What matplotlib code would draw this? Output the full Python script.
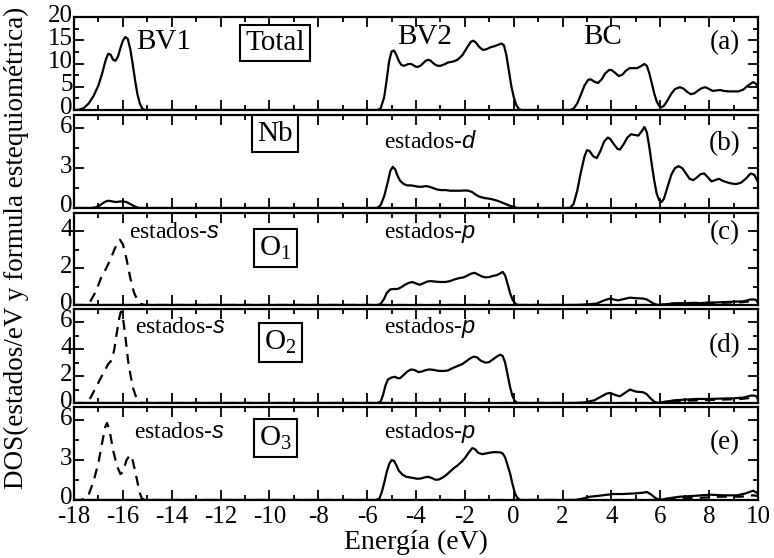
import matplotlib
matplotlib.use("Agg")
import matplotlib.pyplot as plt
import matplotlib.transforms as mtransforms
from matplotlib.ticker import MultipleLocator

plt.rcParams['font.family'] = ['Liberation Serif', 'DejaVu Serif']
plt.rcParams['mathtext.fontset'] = 'custom'
plt.rcParams['mathtext.rm'] = 'Liberation Serif'
plt.rcParams['mathtext.it'] = 'Liberation Sans:italic'

# ---- Total DOS ----
e_total = [-18.0, -17.8, -17.6, -17.4, -17.2, -17.0, -16.85, -16.7, -16.6, -16.5, -16.4, -16.3,
           -16.2, -16.1, -16.0, -15.9, -15.8, -15.7, -15.6, -15.5, -15.4, -15.3, -15.2, -15.1,
           -5.6, -5.45, -5.3, -5.2, -5.1, -5.0, -4.9, -4.8, -4.7, -4.6, -4.5, -4.4, -4.3, -4.2,
           -4.1, -4.0, -3.9, -3.8, -3.7, -3.6, -3.5, -3.4, -3.3, -3.2, -3.1, -3.0, -2.9, -2.8,
           -2.7, -2.5, -2.3, -2.1, -1.9, -1.75, -1.65, -1.55, -1.4, -1.25, -1.1, -0.95, -0.8,
           -0.65, -0.5, -0.4, -0.3, -0.2, -0.1, 0.0, 0.1, 0.2, 0.3,
           2.3, 2.45, 2.6, 2.75, 2.9, 3.05, 3.15, 3.3, 3.45, 3.6, 3.75, 3.9, 4.0, 4.15, 4.3,
           4.45, 4.6, 4.75, 4.9, 5.05, 5.2, 5.35, 5.45, 5.55, 5.65, 5.75, 5.85, 5.95, 6.05,
           6.15, 6.3, 6.45, 6.6, 6.8, 6.95, 7.1, 7.25, 7.4, 7.55, 7.7, 7.85, 8.0, 8.15, 8.3,
           8.45, 8.6, 8.8, 9.0, 9.2, 9.4, 9.6, 9.8, 9.9, 10.0]
dos_total = [0.0, 0.05, 0.4, 1.4, 3.0, 5.3, 7.8, 10.8, 12.1, 11.9, 10.8, 10.6,
             11.5, 13.3, 14.9, 15.7, 15.3, 13.2, 10.0, 6.4, 3.3, 1.3, 0.3, 0.0,
             0.0, 0.3, 2.8, 6.5, 10.5, 12.6, 12.8, 11.8, 10.5, 9.7, 9.5, 9.7, 9.9, 9.9,
             9.6, 9.3, 9.3, 9.6, 10.1, 10.6, 10.8, 10.6, 10.1, 9.7, 9.5, 9.5, 9.7, 9.9,
             10.2, 10.4, 10.8, 11.8, 13.5, 14.7, 14.9, 14.5, 13.5, 12.9, 13.1, 13.5, 13.7,
             14.0, 14.3, 13.9, 11.8, 8.5, 5.2, 2.8, 1.1, 0.3, 0.0,
             0.0, 0.3, 1.4, 3.3, 5.3, 6.5, 6.6, 6.1, 5.8, 6.6, 7.9, 8.6, 8.6, 8.0, 7.3,
             7.6, 8.5, 9.0, 9.0, 9.0, 9.4, 9.9, 9.5, 7.9, 5.8, 3.6, 1.9, 0.9, 0.6,
             0.9, 2.1, 3.5, 4.5, 4.9, 4.6, 3.9, 3.4, 3.6, 4.2, 4.7, 4.9, 4.5, 4.1, 4.2,
             4.3, 4.1, 4.0, 4.0, 4.0, 4.4, 5.3, 6.0, 5.7, 5.0]

# ---- Nb d-states ----
e_nb = [-18.0, -17.3, -17.1, -16.9, -16.75, -16.6, -16.45, -16.3, -16.15, -16.0, -15.85,
        -15.7, -15.55, -15.4, -15.3,
        -5.6, -5.45, -5.3, -5.15, -5.05, -4.95, -4.85, -4.75, -4.65, -4.5, -4.35, -4.2,
        -4.05, -3.9, -3.75, -3.6, -3.45, -3.3, -3.15, -3.0, -2.8, -2.6, -2.4, -2.2, -2.0,
        -1.85, -1.7, -1.55, -1.4, -1.2, -1.0, -0.8, -0.6, -0.4, -0.2, 0.0, 0.15,
        2.3, 2.45, 2.6, 2.75, 2.9, 3.0, 3.1, 3.25, 3.4, 3.55, 3.7, 3.85, 3.95, 4.1, 4.25,
        4.35, 4.5, 4.65, 4.8, 4.95, 5.1, 5.25, 5.35, 5.45, 5.55, 5.65, 5.75, 5.85, 5.95,
        6.05, 6.15, 6.3, 6.45, 6.6, 6.75, 6.9, 7.05, 7.2, 7.35, 7.5, 7.65, 7.8, 7.95, 8.1,
        8.25, 8.4, 8.55, 8.7, 8.9, 9.1, 9.3, 9.5, 9.7, 9.85, 10.0]
dos_nb = [0.0, 0.0, 0.05, 0.25, 0.45, 0.55, 0.5, 0.45, 0.48, 0.5, 0.45,
          0.3, 0.15, 0.03, 0.0,
          0.0, 0.2, 0.9, 2.0, 2.8, 3.1, 2.9, 2.4, 2.05, 1.8, 1.7, 1.7,
          1.65, 1.6, 1.6, 1.65, 1.6, 1.5, 1.4, 1.35, 1.35, 1.3, 1.3, 1.3, 1.32,
          1.3, 1.2, 1.0, 0.85, 0.75, 0.7, 0.62, 0.5, 0.35, 0.2, 0.08, 0.0,
          0.0, 0.3, 1.3, 2.7, 3.9, 4.35, 4.3, 3.9, 3.75, 4.3, 5.0, 5.3, 5.2, 4.8, 4.45,
          4.4, 4.8, 5.3, 5.55, 5.5, 5.45, 5.8, 6.1, 5.7, 4.6, 3.3, 2.1, 1.1, 0.6,
          0.45, 0.7, 1.6, 2.5, 3.0, 3.15, 3.0, 2.6, 2.2, 2.1, 2.3, 2.55, 2.6, 2.3, 2.0,
          2.1, 2.2, 2.05, 1.95, 1.85, 1.8, 1.9, 2.2, 2.6, 2.5, 1.95]

# ---- O1 ----
e_o1_s = [-18.0, -17.6, -17.35, -17.1, -16.9, -16.7, -16.5, -16.35, -16.2, -16.12, -16.0,
          -15.85, -15.7, -15.55, -15.4, -15.25, -15.1,
          5.9, 6.5, 7.5, 8.5, 9.3, 9.8, 10.0]
dos_o1_s = [0.0, 0.0, 0.15, 0.75, 1.45, 1.95, 2.5, 3.0, 3.45, 3.55, 3.3,
            2.5, 1.5, 0.7, 0.25, 0.05, 0.0,
            0.0, 0.08, 0.12, 0.12, 0.15, 0.2, 0.18]
e_o1_p = [-18.0, -5.6, -5.45, -5.3, -5.2, -5.05, -4.9, -4.75, -4.6, -4.45, -4.3, -4.15,
          -4.0, -3.85, -3.7, -3.55, -3.4, -3.2, -3.0, -2.8, -2.6, -2.4, -2.2, -2.05, -1.9,
          -1.75, -1.6, -1.45, -1.3, -1.15, -1.0, -0.85, -0.7, -0.55, -0.45, -0.35, -0.25,
          -0.15, -0.05, 0.05, 0.15,
          2.5, 3.0, 3.4, 3.7, 3.94, 4.1, 4.27, 4.5, 4.76, 5.0, 5.29, 5.45, 5.6, 5.75, 5.9,
          6.2, 6.6, 7.0, 7.5, 8.0, 8.5, 9.0, 9.4, 9.7, 9.85, 10.0]
dos_o1_p = [0.0, 0.0, 0.05, 0.35, 0.65, 0.85, 0.87, 0.87, 0.97, 1.1, 1.2, 1.25,
            1.17, 1.1, 1.18, 1.27, 1.3, 1.27, 1.25, 1.25, 1.3, 1.4, 1.47, 1.5, 1.6,
            1.7, 1.75, 1.65, 1.55, 1.5, 1.52, 1.58, 1.62, 1.72, 1.8, 1.6, 1.15,
            0.65, 0.3, 0.1, 0.0,
            0.0, 0.03, 0.08, 0.25, 0.35, 0.3, 0.25, 0.32, 0.4, 0.37, 0.35, 0.3, 0.18, 0.06, 0.0,
            0.04, 0.08, 0.1, 0.1, 0.12, 0.15, 0.18, 0.2, 0.3, 0.3, 0.22]

# ---- O2 ----
e_o2_s = [-18.0, -17.6, -17.35, -17.15, -16.95, -16.75, -16.6, -16.45, -16.35, -16.25,
          -16.15, -16.08, -16.0, -15.9, -15.79, -15.68, -15.58, -15.45, -15.3, -15.2,
          5.9, 6.5, 7.5, 8.5, 9.3, 9.8, 10.0]
dos_o2_s = [0.0, 0.0, 0.3, 1.0, 1.7, 2.4, 2.9, 3.2, 4.0, 5.2,
            6.3, 6.8, 6.4, 5.0, 3.2, 2.0, 1.1, 0.4, 0.05, 0.0,
            0.0, 0.15, 0.2, 0.25, 0.3, 0.4, 0.35]
e_o2_p = [-18.0, -5.6, -5.45, -5.35, -5.25, -5.15, -5.0, -4.86, -4.75, -4.65, -4.5, -4.35,
          -4.2, -4.05, -3.9, -3.75, -3.6, -3.45, -3.3, -3.1, -2.9, -2.7, -2.5, -2.3, -2.1,
          -1.95, -1.8, -1.65, -1.5, -1.35, -1.15, -1.0, -0.85, -0.7, -0.55, -0.45, -0.35,
          -0.25, -0.15, -0.05, 0.05, 0.15,
          2.5, 2.9, 3.3, 3.6, 3.8, 3.95, 4.15, 4.35, 4.55, 4.76, 5.0, 5.3, 5.45, 5.6, 5.75,
          5.9, 6.2, 6.6, 7.0, 7.5, 8.0, 8.5, 9.0, 9.4, 9.7, 9.85, 10.0]
dos_o2_p = [0.0, 0.0, 0.1, 0.6, 1.3, 1.75, 1.9, 1.95, 1.85, 1.85, 2.1, 2.35,
            2.5, 2.45, 2.3, 2.35, 2.45, 2.5, 2.47, 2.4, 2.38, 2.42, 2.6, 2.75, 2.9,
            3.1, 3.3, 3.45, 3.4, 3.15, 3.0, 3.05, 3.25, 3.45, 3.6, 3.5, 3.0,
            2.1, 1.2, 0.5, 0.15, 0.0,
            0.0, 0.05, 0.2, 0.5, 0.7, 0.75, 0.6, 0.5, 0.75, 1.0, 0.85, 0.8, 0.65, 0.35, 0.1,
            0.0, 0.1, 0.2, 0.25, 0.3, 0.3, 0.33, 0.35, 0.4, 0.55, 0.55, 0.45]

# ---- O3 ----
e_o3_s = [-18.0, -17.7, -17.43, -17.2, -17.0, -16.85, -16.72, -16.65, -16.55, -16.4, -16.25,
          -16.1, -16.0, -15.85, -15.71, -15.6, -15.5, -15.42, -15.32, -15.22, -15.1,
          6.0, 6.5, 7.5, 8.5, 9.3, 9.8, 10.0]
dos_o3_s = [0.0, 0.0, 0.25, 1.4, 2.8, 4.3, 5.5, 5.8, 5.3, 3.75, 2.6,
            1.95, 2.1, 3.0, 3.4, 3.0, 2.2, 1.5, 0.6, 0.1, 0.0,
            0.0, 0.1, 0.15, 0.25, 0.25, 0.35, 0.3]
e_o3_p = [-18.0, -5.65, -5.5, -5.4, -5.3, -5.2, -5.1, -5.0, -4.9, -4.8, -4.7, -4.55, -4.4,
          -4.25, -4.1, -3.95, -3.8, -3.65, -3.5, -3.35, -3.2, -3.05, -2.9, -2.75, -2.6,
          -2.45, -2.3, -2.15, -2.0, -1.85, -1.7, -1.6, -1.45, -1.3, -1.15, -1.0, -0.85,
          -0.7, -0.55, -0.45, -0.35, -0.25, -0.15, -0.05, 0.05, 0.15, 0.26,
          2.5, 2.8, 3.12, 3.5, 4.06, 4.5, 5.0, 5.3, 5.45, 5.6, 5.8, 5.99, 6.3, 6.81, 7.3,
          8.04, 8.6, 9.14, 9.5, 9.8, 10.0]
dos_o3_p = [0.0, 0.0, 0.1, 0.6, 1.3, 2.1, 2.7, 3.0, 2.95, 2.6, 2.2, 1.9, 1.75,
            1.7, 1.65, 1.6, 1.62, 1.7, 1.75, 1.65, 1.52, 1.55, 1.7, 1.9, 2.15,
            2.4, 2.6, 2.85, 3.15, 3.55, 3.9, 3.85, 3.55, 3.45, 3.5, 3.55, 3.6,
            3.6, 3.58, 3.5, 3.2, 2.6, 2.0, 1.2, 0.5, 0.15, 0.0,
            0.0, 0.1, 0.25, 0.32, 0.45, 0.45, 0.5, 0.55, 0.6, 0.45, 0.15, 0.0, 0.12, 0.25, 0.3,
            0.4, 0.35, 0.35, 0.5, 0.7, 0.5]

x_ticks = list(range(-18, 11, 2))
y_ticks = [[0, 5, 10, 15, 20], [0, 3, 6], [0, 2, 4], [0, 2, 4, 6], [0, 3, 6]]

fig = plt.figure(figsize=(7.74, 5.58), dpi=100)
W, H = 774.0, 558.0
left_px, right_px = 74, 758
panels_px = [(17, 110), (115, 208), (213, 305), (309, 403), (407, 500)]
axes = []
for top, bot in panels_px:
    ax = fig.add_axes([left_px / W, 1 - bot / H, (right_px - left_px) / W, (bot - top) / H])
    axes.append(ax)

ylims = [(0, 20), (0, 7), (0, 5), (0, 7), (0, 7)]
yminor = [2.5, 1.5, 1, 1, 1.5]
lw = 1.6
dash = (0, (4.5, 3.2))

axes[0].plot(e_total, dos_total, color='black', lw=lw)
axes[1].plot(e_nb, dos_nb, color='black', lw=lw)
axes[2].plot(e_o1_s, dos_o1_s, color='black', lw=lw, linestyle=dash)
axes[2].plot(e_o1_p, dos_o1_p, color='black', lw=lw)
axes[3].plot(e_o2_s, dos_o2_s, color='black', lw=lw, linestyle=dash)
axes[3].plot(e_o2_p, dos_o2_p, color='black', lw=lw)
axes[4].plot(e_o3_s, dos_o3_s, color='black', lw=lw, linestyle=dash)
axes[4].plot(e_o3_p, dos_o3_p, color='black', lw=lw)

# y tick labels sit slightly above their ticks
lift = mtransforms.ScaledTranslation(0, 4 / 100, fig.dpi_scale_trans)

for i, ax in enumerate(axes):
    ax.set_xlim(-18, 10)
    ax.set_ylim(*ylims[i])
    ax.set_xticks(x_ticks)
    ax.xaxis.set_minor_locator(MultipleLocator(1))
    ax.set_yticks(y_ticks[i])
    ax.set_yticklabels([str(t) for t in y_ticks[i]])
    ax.yaxis.set_minor_locator(MultipleLocator(yminor[i]))
    ax.tick_params(which='both', direction='in', top=True, right=True, width=1.3,
                   labelsize=18, pad=1)
    ax.tick_params(axis='x', pad=4)
    ax.tick_params(which='major', length=7)
    ax.tick_params(which='minor', length=3.5)
    for s in ax.spines.values():
        s.set_linewidth(1.6)
    for lab in ax.get_yticklabels():
        lab.set_transform(lab.get_transform() + lift)
    if i < 4:
        ax.tick_params(labelbottom=False)

axes[4].set_xticklabels([str(t) for t in x_ticks])
axes[4].set_xlabel('Energía (eV)', fontsize=20, labelpad=2)

fig.text(0.021, 0.556, 'DOS(estados/eV y formula estequiométrica)', rotation=90,
         fontsize=19.5, ha='center', va='center')

box = dict(boxstyle='square,pad=0.18', fc='white', ec='black', lw=1.5)
tfs = 21
lfs = 19.5
sfs = 17

a = axes[0]
a.text(-15.45, 14.6, 'BV1', fontsize=tfs, ha='left', va='center')
a.text(-9.77, 14.4, 'Total', fontsize=tfs, ha='center', va='center', bbox=box)
a.text(-3.63, 15.6, 'BV2', fontsize=tfs, ha='center', va='center')
a.text(3.65, 15.8, 'BC', fontsize=tfs, ha='center', va='center')
a.text(8.65, 14.4, '(a)', fontsize=lfs, ha='center', va='center')

b = axes[1]
b.text(-9.77, 5.6, 'Nb', fontsize=tfs, ha='center', va='center', bbox=box)
b.text(-5.3, 4.95, 'estados-$d$', fontsize=sfs, ha='left', va='center')
b.text(8.65, 4.85, '(b)', fontsize=lfs, ha='center', va='center')

c = axes[2]
c.text(-15.75, 3.95, 'estados-$s$', fontsize=sfs, ha='left', va='center')
c.text(-9.75, 3.1, 'O$_1$', fontsize=tfs, ha='center', va='center', bbox=box)
c.text(-5.3, 3.95, 'estados-$p$', fontsize=sfs, ha='left', va='center')
c.text(8.65, 3.95, '(c)', fontsize=lfs, ha='center', va='center')

d = axes[3]
d.text(-15.5, 5.6, 'estados-$s$', fontsize=sfs, ha='left', va='center')
d.text(-9.55, 4.5, 'O$_2$', fontsize=tfs, ha='center', va='center', bbox=box)
d.text(-5.3, 5.6, 'estados-$p$', fontsize=sfs, ha='left', va='center')
d.text(8.65, 4.3, '(d)', fontsize=lfs, ha='center', va='center')

e = axes[4]
e.text(-15.55, 5.1, 'estados-$s$', fontsize=sfs, ha='left', va='center')
e.text(-9.75, 4.65, 'O$_3$', fontsize=tfs, ha='center', va='center', bbox=box)
e.text(-5.3, 5.1, 'estados-$p$', fontsize=sfs, ha='left', va='center')
e.text(8.65, 4.3, '(e)', fontsize=lfs, ha='center', va='center')

fig.savefig('out.png', dpi=100)
